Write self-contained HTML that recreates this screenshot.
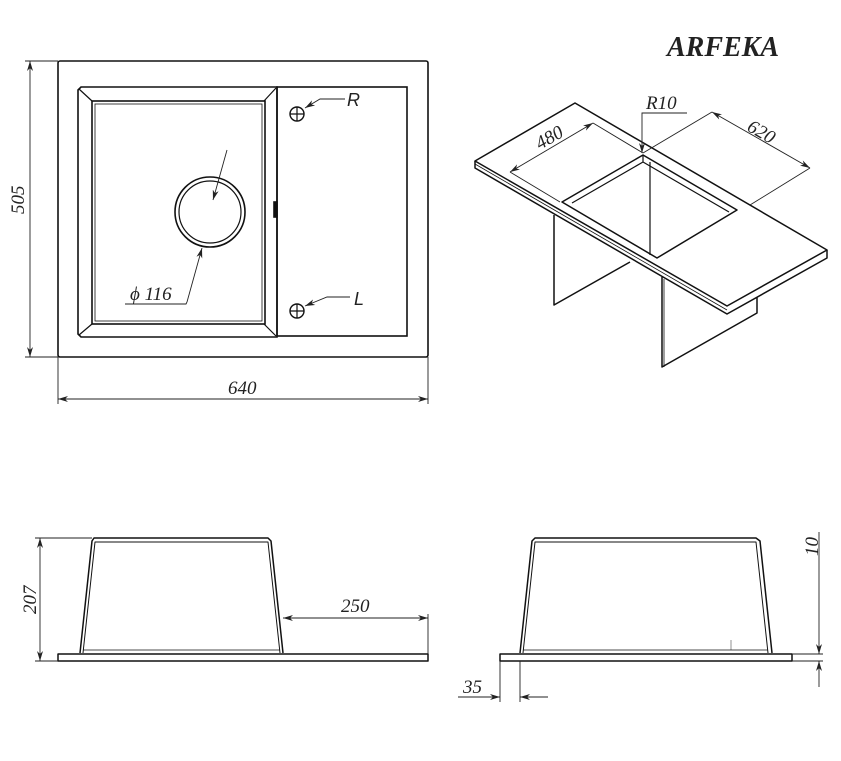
<!DOCTYPE html>
<html><head><meta charset="utf-8"><style>
html,body{margin:0;padding:0;background:#fff;width:841px;height:761px;overflow:hidden}
svg{display:block}
text{font-family:"Liberation Serif",serif;font-style:italic;fill:#222}
</style></head><body>
<svg width="841" height="761" viewBox="0 0 841 761" xmlns="http://www.w3.org/2000/svg">
<defs>
<marker id="a" viewBox="0 0 10 6" refX="10" refY="3" markerWidth="10" markerHeight="6" orient="auto-start-reverse" markerUnits="userSpaceOnUse"><path d="M0,0 L10,3 L0,6 L3,3z" fill="#222"/></marker>
</defs>
<text x="667" y="56" font-size="28" font-weight="bold" fill="#111">ARFEKA</text>

<!-- top view -->
<g fill="none" stroke="#111" stroke-width="1.6">
<rect x="58" y="61" width="370" height="296" rx="2"/>
<rect x="277" y="87" width="130" height="249"/>
<path d="M81,87 L277,87 L277,337 L81,337 L78,334 L78,90 Z"/>
<rect x="92" y="101" width="173" height="223"/>
<rect x="95" y="104" width="167" height="217" stroke-width="0.8"/>
<path d="M79,89 L92,101 M276,88 L264,101 M79,335 L92,324 M276,336 L264,324" stroke-width="1.2"/>
<circle cx="210" cy="212" r="35"/>
<circle cx="210" cy="212" r="31" stroke-width="1.2"/>
<circle cx="297" cy="114" r="7" stroke-width="1.4"/>
<path d="M290,114 H304 M297,107 V121" stroke-width="1.2"/>
<circle cx="297" cy="311" r="7" stroke-width="1.4"/>
<path d="M290,311 H304 M297,304 V318" stroke-width="1.2"/>
<rect x="274" y="202" width="3" height="15" fill="#111"/>
</g>
<g fill="none" stroke="#222" stroke-width="0.9">
<path d="M345,99 H320 L305,108" marker-end="url(#a)"/>
<path d="M350,297 H327 L305,306" marker-end="url(#a)"/>
<path d="M227,150 L213,200" marker-end="url(#a)"/>
<path d="M187,302 L202,248" marker-end="url(#a)"/>
<path d="M187,302 L186,304 H125"/>
<path d="M30,61 V357" marker-start="url(#a)" marker-end="url(#a)"/>
<path d="M25,61 H58 M25,357 H58"/>
<path d="M58,399 H428" marker-start="url(#a)" marker-end="url(#a)"/>
<path d="M58,357 V404 M428,357 V404"/>
</g>
<text x="347" y="106" font-size="18" style="font-family:'Liberation Sans',sans-serif">R</text>
<text x="354" y="305" font-size="18" style="font-family:'Liberation Sans',sans-serif">L</text>
<text x="130" y="300" font-size="19">ϕ 116</text>
<text x="228" y="394" font-size="19">640</text>
<text transform="translate(24,214) rotate(-90)" font-size="19">505</text>

<!-- iso view -->
<g fill="none" stroke="#111" stroke-width="1.5" stroke-linejoin="round">
<path d="M554,215 V305 L630,262"/>
<path d="M662,277 V367 L757,313 V297"/>
<path d="M664,279 V367" stroke-width="0.8"/>
<path d="M575,103 L827,250 L727,306 L475,161 Z" fill="#fff"/>
<path d="M475,161 L475,168 L727,314 L827,258 L827,250"/>
<path d="M475,164 L727,310" stroke-width="0.8"/>
<path d="M643,155 L737,210 L657,258 L562,202 Z"/>
<path d="M643,155 L643,162 L572,203 M643,162 L729,212" stroke-width="1.2"/>
<path d="M650,162 V255" stroke-width="1.2"/>
</g>
<g fill="none" stroke="#222" stroke-width="0.9">
<path d="M510,172 L593,123" marker-start="url(#a)" marker-end="url(#a)"/>
<path d="M593,123 L643,153 M510,172 L560,202"/>
<path d="M712,112 L810,168" marker-start="url(#a)" marker-end="url(#a)"/>
<path d="M643,153 L712,112 M750,205 L810,168"/>
<path d="M687,113 H642 V153" marker-end="url(#a)"/>
</g>
<text x="646" y="109" font-size="19">R10</text>
<text transform="translate(540,150) rotate(-30)" font-size="19">480</text>
<text transform="translate(746,130) rotate(30)" font-size="19">620</text>

<!-- front view left -->
<g fill="none" stroke="#111" stroke-width="1.5" stroke-linejoin="round">
<rect x="58" y="654" width="370" height="7"/>
<path d="M80,653 L92,541 L94,538 L268,538 L271,541 L283,653"/>
<path d="M83,653 L95,542 L268,542 L280,653" stroke-width="1"/>
<path d="M83,650 H280" stroke-width="0.8"/>
</g>
<g fill="none" stroke="#222" stroke-width="0.9">
<path d="M40,538 V661" marker-start="url(#a)" marker-end="url(#a)"/>
<path d="M35,538 H92 M35,661 H58"/>
<path d="M283,618 H428" marker-start="url(#a)" marker-end="url(#a)"/>
<path d="M428,614 V654"/>
</g>
<text transform="translate(36,614) rotate(-90)" font-size="19">207</text>
<text x="341" y="612" font-size="19">250</text>

<!-- front view right -->
<g fill="none" stroke="#111" stroke-width="1.5" stroke-linejoin="round">
<rect x="500" y="654" width="292" height="7"/>
<path d="M520,653 L532,541 L535,538 L756,538 L760,541 L772,653"/>
<path d="M523,653 L535,542 L756,542 L768,653" stroke-width="1"/>
<path d="M523,650 H768" stroke-width="0.8"/>
</g>
<g fill="none" stroke="#222" stroke-width="0.9">
<path d="M819,532 V654" marker-end="url(#a)"/>
<path d="M819,687 V661" marker-end="url(#a)"/>
<path d="M792,654 H823 M792,661 H823"/>
<path d="M500,661 V702 M520,661 V702"/>
<path d="M458,697 H500" marker-end="url(#a)"/>
<path d="M548,697 H520" marker-end="url(#a)"/>
<path d="M731,640 V650" stroke-width="0.5"/>
</g>
<text transform="translate(818,556) rotate(-90)" font-size="19">10</text>
<text x="463" y="693" font-size="19">35</text>
</svg>
</body></html>
